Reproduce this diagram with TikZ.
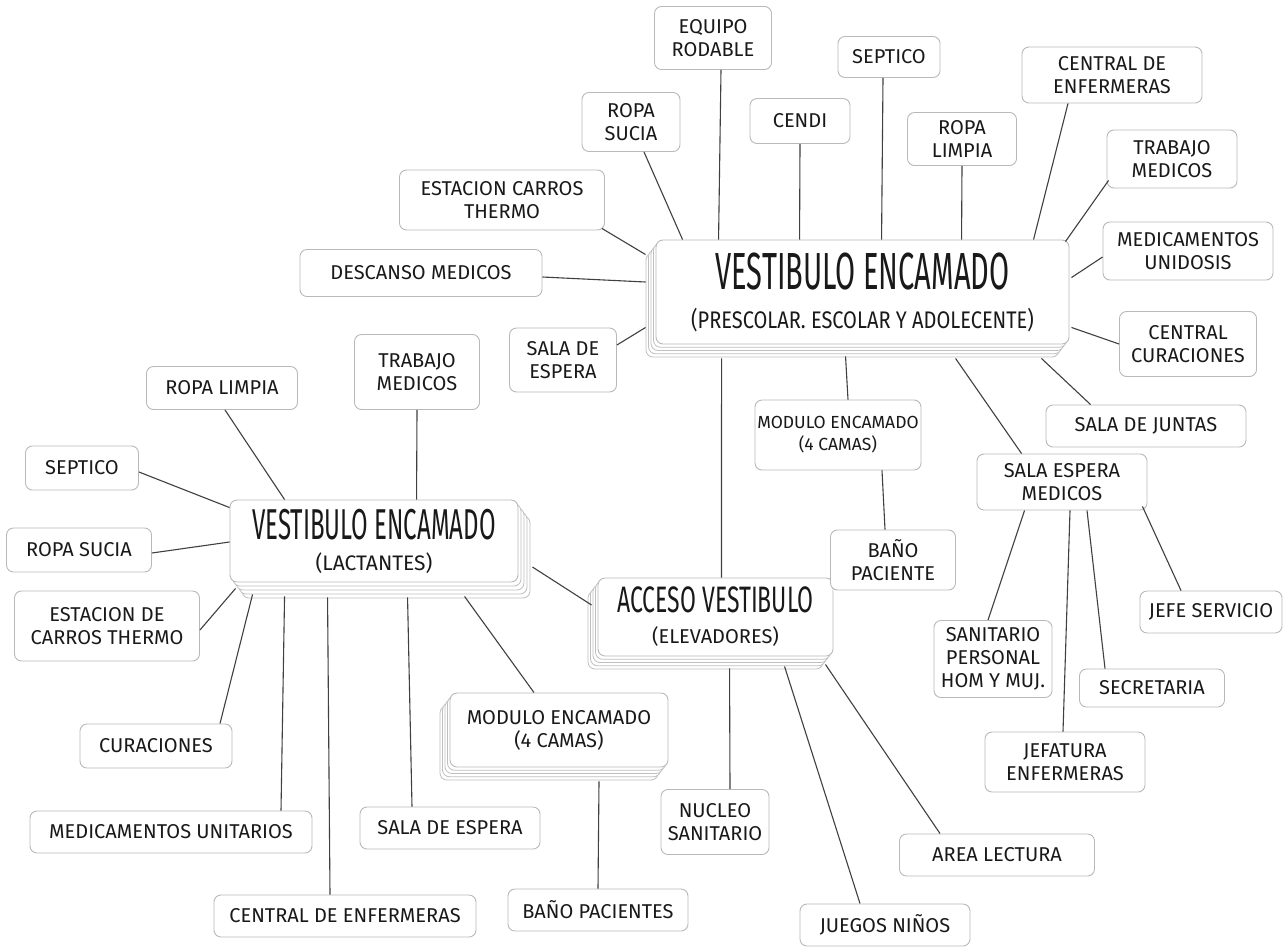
\documentclass[tikz,border=0pt]{standalone}
\usepackage{fontspec}
\setmainfont{Fira Sans}
\usetikzlibrary{calc,shadows}
\tikzset{
  box/.style={draw=gray!55, line width=0.9pt, rounded corners=7pt, fill=white,
    align=center, inner sep=2pt, font=\fontsize{20}{23}\selectfont, text=black!90},
  sz/.style 2 args={minimum width=#1pt, minimum height=#2pt},
  lk/.style={draw=black!75, line width=1.1pt},
  layer/.style 2 args={general shadow={shadow xshift=#1pt, shadow yshift=#2pt, fill=white, draw=gray!50, line width=0.8pt}},
  stackL/.style={layer={-10}{-13}, layer={-7.5}{-9.75}, layer={-5}{-6.5}, layer={-2.5}{-3.25}},
  stackR/.style={layer={12}{-16}, layer={9}{-12}, layer={6}{-8}, layer={3}{-4}}
}
\begin{document}
\begin{tikzpicture}[x=1pt,y=-1pt]
\fill[white] (0,0) rectangle (1287,948);
\useasboundingbox (0,0) rectangle (1287,948);

% ---- big stacked boxes
\node[box,sz={413}{104},stackL] (top) at (862.5,292)
  {\scalebox{1}[1.8]{\fontsize{29}{29}\selectfont VESTIBULO ENCAMADO}\\[16pt]
   \scalebox{1}[1.2]{\fontsize{20}{20}\selectfont (PRESCOLAR. ESCOLAR Y ADOLECENTE)}};
\node[box,sz={288}{82},stackR] (lact) at (374,541)
  {\scalebox{1}[1.8]{\fontsize{24}{24}\selectfont VESTIBULO ENCAMADO}\\[8pt]
   {\fontsize{21}{21}\selectfont (LACTANTES)}};
\node[box,sz={235}{78},stackL] (acc) at (715.5,617)
  {\scalebox{1}[1.6]{\fontsize{23}{23}\selectfont ACCESO VESTIBULO}\\[8pt]
   {\fontsize{20}{20}\selectfont (ELEVADORES)}};
\node[box,sz={218}{74},stackL] (modL) at (559,730) {MODULO ENCAMADO\\(4 CAMAS)};

% ---- small boxes
\node[box,sz={117}{63}] (rodable) at (713,38) {EQUIPO\\RODABLE};
\node[box,sz={102}{41}] (septicoT) at (889,57) {SEPTICO};
\node[box,sz={180}{56}] (cenfT) at (1112,75) {CENTRAL DE\\ENFERMERAS};
\node[box,sz={98}{59}] (rsuciaT) at (631,122) {ROPA\\SUCIA};
\node[box,sz={100}{45}] (cendi) at (800,121) {CENDI};
\node[box,sz={109}{53}] (rlimpiaT) at (962,139) {ROPA\\LIMPIA};
\node[box,sz={130}{58}] (tmedR) at (1172,159) {TRABAJO\\MEDICOS};
\node[box,sz={205}{60}] (estT) at (502,200) {ESTACION CARROS\\THERMO};
\node[box,sz={170}{58}] (medUni) at (1188,251) {MEDICAMENTOS\\UNIDOSIS};
\node[box,sz={242}{47}] (desc) at (421,273) {DESCANSO MEDICOS};
\node[box,sz={107}{64}] (seT) at (563,360) {SALA DE\\ESPERA};
\node[box,sz={137}{65}] (ccur) at (1188,344) {CENTRAL\\CURACIONES};
\node[box,sz={125}{75}] (tmedL) at (417,372) {TRABAJO\\MEDICOS};
\node[box,sz={151}{43}] (rlimpiaL) at (222,388) {ROPA LIMPIA};
\node[box,sz={200}{42}] (sjuntas) at (1146,426) {SALA DE JUNTAS};
\node[box,sz={166}{70},font=\fontsize{17.5}{22}\selectfont] (modM) at (838,435) {MODULO ENCAMADO\\(4 CAMAS)};
\node[box,sz={113}{44}] (septicoL) at (82,468) {SEPTICO};
\node[box,sz={170}{56}] (sem) at (1062,482) {SALA ESPERA\\MEDICOS};
\node[box,sz={145}{44}] (rsuciaL) at (79,550) {ROPA SUCIA};
\node[box,sz={125}{60}] (banoP) at (893,560) {BAÑO\\PACIENTE};
\node[box,sz={185}{70}] (estL) at (107,626) {ESTACION DE\\CARROS THERMO};
\node[box,sz={142}{42}] (jefe) at (1211,612) {JEFE SERVICIO};
\node[box,sz={118}{77}] (sanit) at (993,659) {SANITARIO\\PERSONAL\\HOM Y MUJ.};
\node[box,sz={145}{38}] (secr) at (1152,688) {SECRETARIA};
\node[box,sz={152}{44}] (cur) at (156,746) {CURACIONES};
\node[box,sz={160}{60}] (jefat) at (1065,762) {JEFATURA\\ENFERMERAS};
\node[box,sz={282}{42}] (medUnit) at (171,832) {MEDICAMENTOS UNITARIOS};
\node[box,sz={180}{42}] (seB) at (450,828) {SALA DE ESPERA};
\node[box,sz={108}{65}] (nucleo) at (715,822) {NUCLEO\\SANITARIO};
\node[box,sz={195}{42}] (area) at (997,855) {AREA LECTURA};
\node[box,sz={262}{42}] (cenfB) at (345,916) {CENTRAL DE ENFERMERAS};
\node[box,sz={180}{42}] (banoB) at (598,910) {BAÑO PACIENTES};
\node[box,sz={170}{42}] (juegos) at (885,925) {JUEGOS NIÑOS};

% ---- connectors: upper vestibule
\draw[lk] ($(rodable.south)+(8,0)$) -- ($(top.north west)+(63,0)$);
\draw[lk] ($(rsuciaT.south)+(13,0)$) -- ($(top.north west)+(27,0)$);
\draw[lk] (cendi.south) -- ($(top.north west)+(144,0)$);
\draw[lk] ($(septicoT.south)+(-6,0)$) -- ($(top.north west)+(226,0)$);
\draw[lk] (rlimpiaT.south) -- ($(top.north west)+(306,0)$);
\draw[lk] ($(cenfT.south)+(-44,0)$) -- ($(top.north west)+(378,0)$);
\draw[lk] ($(tmedR.south west)+(2,-8)$) -- ($(top.north east)+(-4,2)$);
\draw[lk] ($(medUni.west)+(0,6)$) -- ($(top.north east)+(2,38)$);
\draw[lk] (ccur.west) -- ($(top.south east)+(2,-17)$);
\draw[lk] ($(sjuntas.north west)+(45,0)$) -- ($(top.south east)+(-28,14)$);
\draw[lk] ($(sem.north west)+(45,0)$) -- ($(top.south west)+(300,14)$);
\draw[lk] ($(modM.north)+(10,0)$) -- ($(top.south west)+(190,12)$);
\draw[lk] ($(acc.north)+(6,0)$) -- ($(top.south west)+(66,14)$);
\draw[lk] ($(seT.east)+(0,-15)$) -- ($(top.south west)+(-10,-17)$);
\draw[lk] ($(desc.east)+(0,4)$) -- ($(top.west)+(-10,-10)$);
\draw[lk] ($(estT.south east)+(-3,-2)$) -- ($(top.north west)+(-10,15)$);

% ---- connectors: lactantes
\draw[lk] (tmedL.south) -- ($(lact.north west)+(187,0)$);
\draw[lk] ($(rlimpiaL.south)+(3,0)$) -- ($(lact.north west)+(55,0)$);
\draw[lk] ($(septicoL.east)+(0,4)$) -- ($(lact.north west)+(0,8)$);
\draw[lk] ($(rsuciaL.east)+(0,3)$) -- ($(lact.west)+(0,1)$);
\draw[lk] ($(estL.east)+(0,4)$) -- ($(lact.south west)+(6,6)$);
\draw[lk] ($(cur.north)+(64,0)$) -- ($(lact.south west)+(23,12)$);
\draw[lk] ($(medUnit.north)+(110,0)$) -- ($(lact.south west)+(55,14)$);
\draw[lk] ($(cenfB.north)+(-15,0)$) -- ($(lact.south west)+(98,15)$);
\draw[lk] ($(seB.north)+(-38,0)$) -- ($(lact.south west)+(178,15)$);
\draw[lk] ($(modL.north)+(-25,0)$) -- ($(lact.south west)+(235,14)$);
\draw[lk] ($(lact.east)+(14,26)$) -- ($(acc.west)+(-6,-12)$);

% ---- connectors: acceso & modules
\draw[lk] ($(nucleo.north)+(15,0)$) -- ($(acc.south west)+(132,12)$);
\draw[lk] ($(juegos.north)+(-25,0)$) -- ($(acc.south west)+(187,10)$);
\draw[lk] ($(area.north)+(-57,0)$) -- ($(acc.south east)+(-8,8)$);
\draw[lk] ($(modM.south)+(44,0)$) -- ($(banoP.north)+(-8,0)$);
\draw[lk] ($(modL.south)+(40,14)$) -- (banoB.north);

% ---- connectors: sala espera medicos
\draw[lk] ($(sem.south west)+(48,0)$) -- ($(sanit.north)+(-5,0)$);
\draw[lk] ($(sem.south)+(8,0)$) -- ($(jefat.north)+(-2,0)$);
\draw[lk] ($(sem.south)+(25,0)$) -- ($(secr.north)+(-47,0)$);
\draw[lk] ($(sem.south east)+(-5,-4)$) -- ($(jefe.north)+(-30,0)$);
\end{tikzpicture}
\end{document}
